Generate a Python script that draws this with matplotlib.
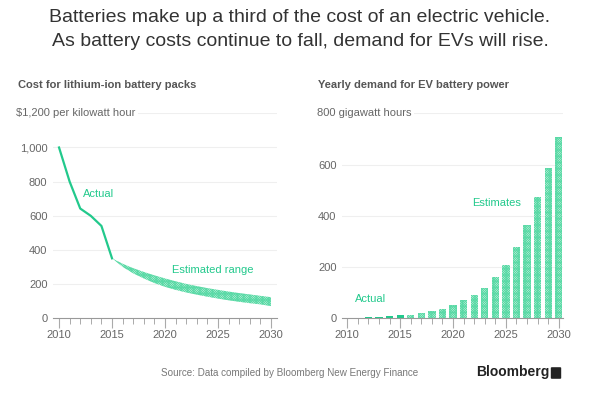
import numpy as np
import matplotlib.pyplot as plt
from matplotlib.patches import FancyBboxPatch

plt.rcParams['font.family'] = ['Liberation Sans', 'DejaVu Sans']
plt.rcParams['hatch.linewidth'] = 0.6

# Cost of lithium-ion battery packs ($ per kWh)
cost_years = [2010, 2011, 2012, 2013, 2014, 2015]
cost_actual = [1000, 800, 642, 599, 540, 350]
est_years = list(range(2015, 2031))
est_upper = [350, 318, 292, 270, 250, 232, 215, 200, 187, 175, 165, 155, 146, 138, 130, 122]
est_lower = [350, 300, 262, 232, 205, 183, 165, 150, 137, 125, 114, 104, 95, 87, 80, 70]

# Yearly demand for EV battery power (GWh)
dem_years_actual = [2010, 2011, 2012, 2013, 2014, 2015]
dem_actual = [0, 0, 3, 5, 8, 10]
dem_years_est = list(range(2016, 2031))
dem_est = [13, 19, 27, 36, 52, 70, 90, 118, 162, 209, 278, 365, 473, 588, 708]

green = '#22c98c'
light = '#d2f6e5'
hatch_col = '#5ad9a6'
grid = '#efefef'
tick_col = '#666666'
hatch = 'x' * 14

W, H = 600, 399
fig = plt.figure(figsize=(6, 3.99), dpi=100)

def px(x0, y0, x1, y1):
    return [x0 / W, 1 - y1 / H, (x1 - x0) / W, (y1 - y0) / H]

ax1 = fig.add_axes(px(53, 113.4, 277, 318))
ax2 = fig.add_axes(px(342, 113.4, 563, 318))

for ax in (ax1, ax2):
    for s in ['top', 'right', 'left']:
        ax.spines[s].set_visible(False)
    ax.spines['bottom'].set_color('#999999')
    ax.spines['bottom'].set_linewidth(0.8)
    ax.set_xticks([2010, 2015, 2020, 2025, 2030])
    ax.set_xticks(range(2010, 2031), minor=True)
    ax.tick_params(axis='x', which='major', length=7, width=0.8, color='#aaaaaa',
                   labelsize=8, labelcolor=tick_col, pad=2)
    ax.tick_params(axis='x', which='minor', length=4, width=0.7, color='#aaaaaa')
    ax.tick_params(axis='y', length=0, labelsize=8, labelcolor=tick_col, pad=4)
    ax.set_axisbelow(True)

# left chart
ax1.set_xlim(2009.43, 2030.57)
ax1.set_ylim(0, 1200)
ax1.set_yticks([0, 200, 400, 600, 800, 1000])
ax1.set_yticklabels(['0', '200', '400', '600', '800', '1,000'])
for v in [200, 400, 600, 800, 1000, 1200]:
    ax1.axhline(v, color=grid, lw=0.8, zorder=0)
ax1.fill_between(est_years, est_lower, est_upper, facecolor=light, edgecolor=hatch_col,
                 hatch=hatch, linewidth=0)
ax1.plot(cost_years, cost_actual, color=green, lw=1.6, solid_joinstyle='round')
ax1.text(2012.26, 725, 'Actual', color=green, fontsize=8, va='center', ha='left')
ax1.text(2020.66, 281, 'Estimated range', color=green, fontsize=8, va='center', ha='left')
ax1.text(-37 / 224, 1200, '$1,200 per kilowatt hour', transform=ax1.get_yaxis_transform(),
         color=tick_col, fontsize=8, va='center', ha='left',
         bbox=dict(facecolor='white', edgecolor='none', pad=2))

# right chart
ax2.set_xlim(2009.5, 2030.4)
ax2.set_ylim(0, 800)
ax2.set_yticks([0, 200, 400, 600])
for v in [200, 400, 600, 800]:
    ax2.axhline(v, color=grid, lw=0.8, zorder=0)
ax2.bar(dem_years_actual, dem_actual, width=0.69, color=green, linewidth=0)
ax2.bar(dem_years_est, dem_est, width=0.69, facecolor=light, edgecolor=hatch_col,
        hatch=hatch, linewidth=0)
ax2.text(2010.72, 74, 'Actual', color=green, fontsize=8, va='center', ha='left')
ax2.text(2021.8, 449, 'Estimates', color=green, fontsize=8, va='center', ha='left')
ax2.text(-25 / 221, 800, '800 gigawatt hours', transform=ax2.get_yaxis_transform(),
         color=tick_col, fontsize=8, va='center', ha='left',
         bbox=dict(facecolor='white', edgecolor='none', pad=2))

# titles and footer
fig.text(0.5, 1 - 18 / H, 'Batteries make up a third of the cost of an electric vehicle.',
         ha='center', va='center', fontsize=14, color='#333333')
fig.text(0.5, 1 - 41 / H, 'As battery costs continue to fall, demand for EVs will rise.',
         ha='center', va='center', fontsize=14, color='#333333')
fig.text(18 / W, 1 - 85 / H, 'Cost for lithium-ion battery packs', ha='left', va='center',
         fontsize=8, fontweight='bold', color='#555555')
fig.text(318 / W, 1 - 85 / H, 'Yearly demand for EV battery power', ha='left', va='center',
         fontsize=8, fontweight='bold', color='#555555')
fig.text(161 / W, 1 - 373 / H, 'Source: Data compiled by Bloomberg New Energy Finance',
         ha='left', va='center', fontsize=7.1, color='#777777')
fig.text(476 / W, 1 - 372 / H, 'Bloomberg', ha='left', va='center', fontsize=10,
         fontweight='bold', color='#222222')
fig.patches.append(FancyBboxPatch((552 / W, 1 - 378 / H), 8 / W, 10 / H,
                                  boxstyle='round,pad=0.002', facecolor='#222222',
                                  edgecolor='none', transform=fig.transFigure))

fig.savefig('out.png', dpi=100)
